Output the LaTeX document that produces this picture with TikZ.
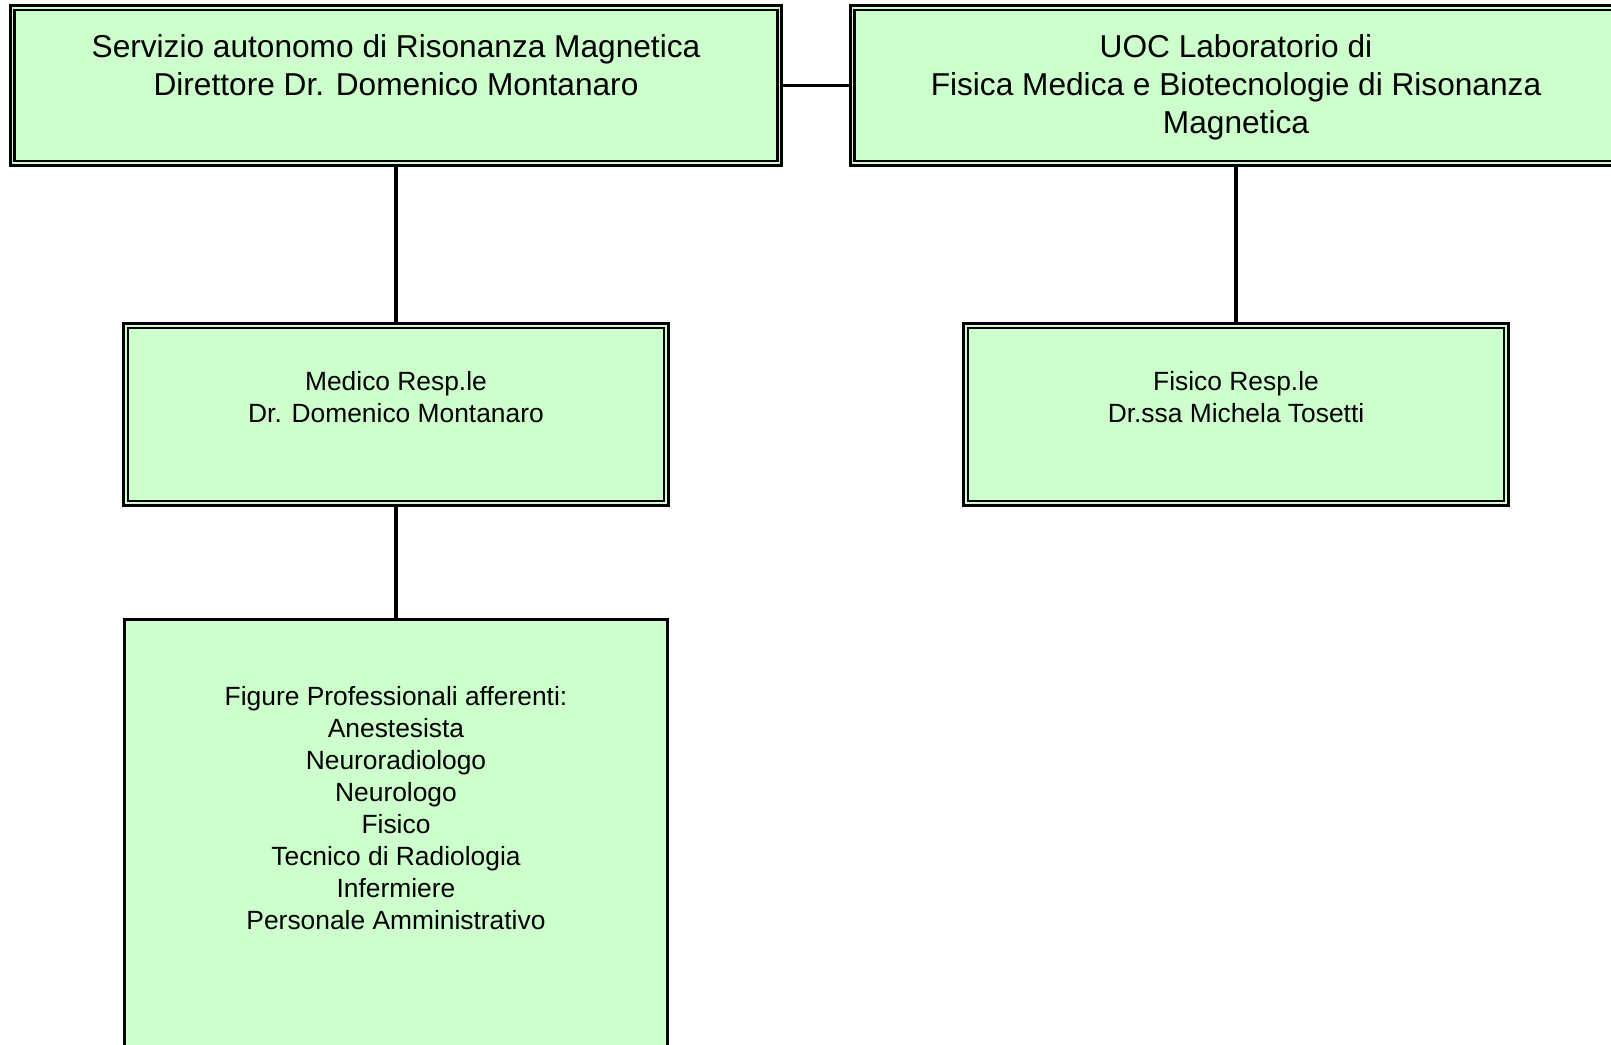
\documentclass[tikz,border=0pt]{standalone}
\usepackage{fontspec}
\setmainfont{Liberation Sans}
\usepackage{tikz}
\usetikzlibrary{positioning}
\definecolor{lgreen}{rgb}{0.8, 1, 0.8}

\begin{document}
\begin{tikzpicture}[x=0.01cm, y=-0.01cm,
    unit/.style={draw, fill=lgreen, double=lgreen, double distance=0.4pt, line width=0.8pt, inner sep=0pt, minimum width=7.66cm, minimum height=1.55cm},
    resp/.style={unit, minimum width=5.40cm, minimum height=1.77cm},
    staff/.style={draw, fill=lgreen, line width=0.9pt, inner sep=0pt, minimum width=5.43cm, minimum height=5cm, anchor=north},
    bigtext/.style={align=center, inner sep=0pt, font=\fontsize{9}{10.8}\selectfont},
    smalltext/.style={align=center, inner sep=0pt, font=\fontsize{7.5}{9.1}\selectfont},
    link/.style={line width=0.95pt}]
    \useasboundingbox (0, 0) rectangle (1611, 1045);
    \clip (0, 0) rectangle (1611, 1045);

    \node [unit] (srm) at (396, 85.5) {};
    \node [unit] (lab) at (1236, 85.5) {};
    \node [resp] (med) at (396, 414.5) {};
    \node [resp] (fis) at (1236, 414.5) {};
    \node [staff] (team) at (396, 618) {};

    \draw [link] (srm) -- (lab);
    \draw [link] (srm) -- (med);
    \draw [link] (lab) -- (fis);
    \draw [link] (med) -- (team);

    \node [bigtext, below=7.7pt of srm.north] (srmtext) {Servizio autonomo di Risonanza Magnetica\\Direttore Dr. Domenico Montanaro};
    \node [bigtext, below=7.7pt of lab.north] (labtext) {UOC Laboratorio di\\Fisica Medica e Biotecnologie di Risonanza\\Magnetica};
    \node [smalltext, below=13.1pt of med.north] (medtext) {Medico Resp.le\\Dr. Domenico Montanaro};
    \node [smalltext, below=13.1pt of fis.north] (fistext) {Fisico Resp.le\\Dr.ssa Michela Tosetti};
    \node [smalltext, below=19.3pt of team.north] (teamtext) {Figure Professionali afferenti:\\Anestesista\\Neuroradiologo\\Neurologo\\Fisico\\Tecnico di Radiologia\\Infermiere\\Personale Amministrativo};
  \end{tikzpicture}
\end{document}
